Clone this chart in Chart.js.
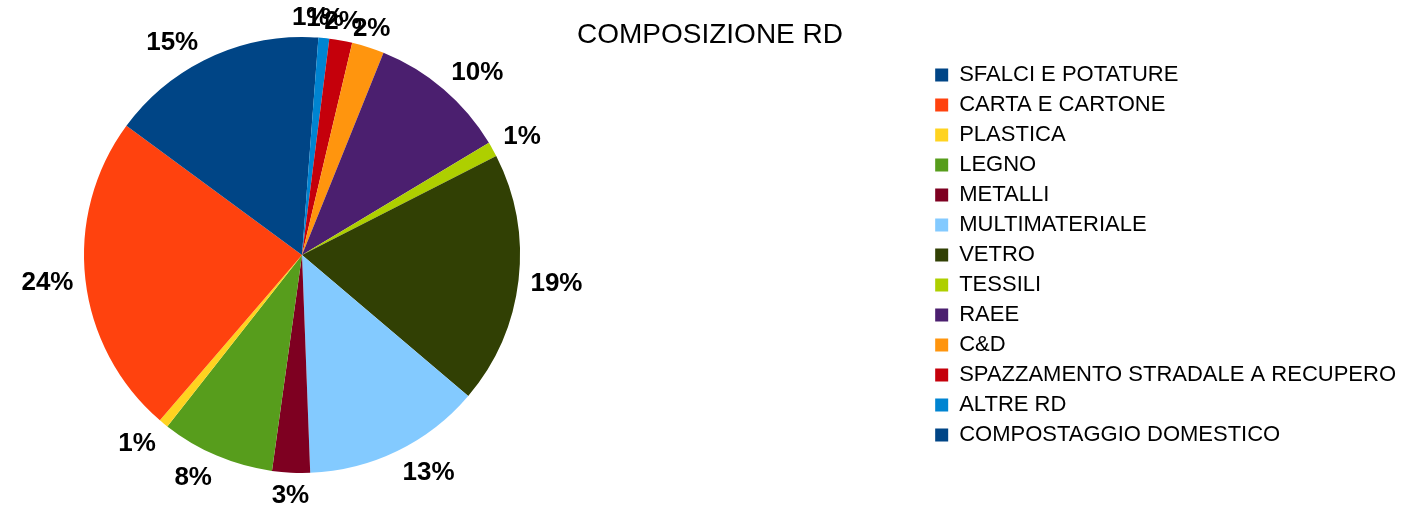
<!DOCTYPE html>
<html lang="it">
<head>
<meta charset="utf-8">
<title>Composizione RD</title>
<script src="https://cdn.jsdelivr.net/npm/chart.js@4/dist/chart.umd.min.js"></script>
<style>
  html, body { margin: 0; padding: 0; background: #fff; }
  #wrap { width: 1404px; height: 506px; }
</style>
</head>
<body>
<div id="wrap"><canvas id="graficoRD" width="1404" height="506"></canvas></div>
<script>
// dati (percentuali)
const categorie = [
  'SFALCI E POTATURE',
  'CARTA E CARTONE',
  'PLASTICA',
  'LEGNO',
  'METALLI',
  'MULTIMATERIALE',
  'VETRO',
  'TESSILI',
  'RAEE',
  'C&D',
  'SPAZZAMENTO STRADALE A RECUPERO',
  'ALTRE RD',
  'COMPOSTAGGIO DOMESTICO'
];
const valori = [14.9, 23.8, 0.7, 8.4, 2.8, 13.2, 18.7, 1.1, 10.3, 2.4, 1.7, 0.8, 1.2];
const colori = [
  '#004586', '#ff420e', '#ffd320', '#579d1c', '#7e0021', '#83caff', '#314004',
  '#aecf00', '#4b1f6f', '#ff950e', '#c5000b', '#0084d1', '#004586'
];
const titolo = 'COMPOSIZIONE RD';

// la torta va in senso antiorario: invertiamo per Chart.js (orario)
const labelsInv = categorie.slice().reverse();
const valoriInv = valori.slice().reverse();
const coloriInv = colori.slice().reverse();

Chart.defaults.font.family = "'Liberation Sans', Arial, sans-serif";
Chart.defaults.color = '#000';

// sposta l'area della torta a sinistra, lasciando spazio vuoto prima della legenda
const areaTorta = {
  id: 'areaTorta',
  afterLayout(chart) {
    const a = chart.chartArea;
    a.right = 604 - a.left;
    a.width = a.right - a.left;
  }
};

const titoloPlugin = {
  id: 'titoloPlugin',
  afterDraw(chart) {
    const ctx = chart.ctx;
    ctx.save();
    ctx.font = "28px 'Liberation Sans', Arial, sans-serif";
    ctx.fillStyle = '#000';
    ctx.textAlign = 'center';
    ctx.textBaseline = 'alphabetic';
    ctx.fillText(titolo, 710, 43);
    ctx.restore();
  }
};

const percentuali = {
  id: 'percentuali',
  afterDatasetsDraw(chart) {
    const ctx = chart.ctx;
    const meta = chart.getDatasetMeta(0);
    const data = chart.data.datasets[0].data;
    const totale = data.reduce((a, b) => a + b, 0);
    const size = 26;
    const cap = size * 0.716;
    ctx.save();
    ctx.font = "bold " + size + "px 'Liberation Sans', Arial, sans-serif";
    ctx.fillStyle = '#000';
    ctx.textBaseline = 'alphabetic';
    meta.data.forEach(function (arc, i) {
      const p = arc.getProps(['x', 'y', 'startAngle', 'endAngle', 'outerRadius'], true);
      const mid = (p.startAngle + p.endAngle) / 2;
      const dx = Math.cos(mid), dy = Math.sin(mid);
      const r = p.outerRadius + 12;
      const ax = p.x + dx * r, ay = p.y + dy * r;
      ctx.textAlign = dx > 0.383 ? 'left' : (dx < -0.383 ? 'right' : 'center');
      const by = dy > 0.383 ? ay + cap : (dy < -0.383 ? ay : ay + cap / 2);
      ctx.fillText(Math.round(data[i] / totale * 100) + '%', ax, by);
    });
    ctx.restore();
  }
};

new Chart(document.getElementById('graficoRD'), {
  type: 'pie',
  data: {
    labels: labelsInv,
    datasets: [{
      data: valoriInv,
      backgroundColor: coloriInv,
      borderWidth: 0
    }]
  },
  options: {
    responsive: false,
    animation: false,
    layout: {
      padding: { left: 0, right: -2, top: 37, bottom: 33 }
    },
    plugins: {
      legend: {
        position: 'right',
        reverse: true,
        labels: {
          boxWidth: 13,
          boxHeight: 13,
          padding: 8,
          font: { size: 22 }
        }
      },
      title: { display: false },
      tooltip: { enabled: false }
    }
  },
  plugins: [areaTorta, percentuali, titoloPlugin]
});
</script>
</body>
</html>
